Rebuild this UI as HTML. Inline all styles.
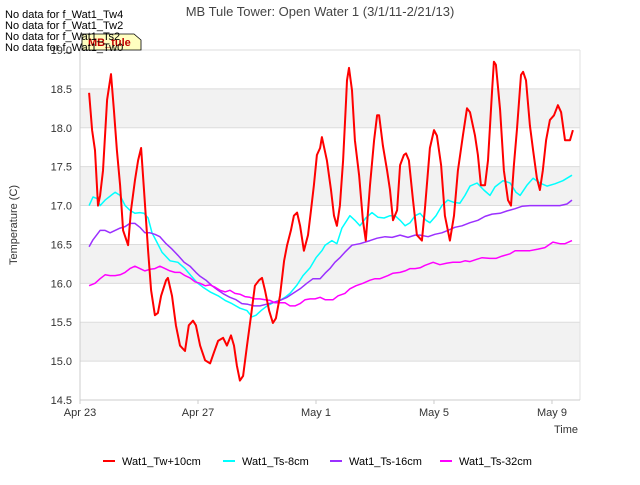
<!DOCTYPE html>
<html><head><meta charset="utf-8"><style>
body{margin:0;background:#fff;font-family:"Liberation Sans",sans-serif}
svg text{font-family:"Liberation Sans",sans-serif}
</style></head><body>
<svg id="c" width="640" height="480" xmlns="http://www.w3.org/2000/svg">
<text x="320" y="16" text-anchor="middle" font-size="13" fill="#444">MB Tule Tower: Open Water 1 (3/1/11-2/21/13)</text>
<g id="plot"></g>
<g><path d="M82,34 L134,34 L141,40 L141,50 L82,50 Z" fill="#ffffc0" stroke="#000" stroke-width="0.8"/>
<text x="88" y="46" font-size="11" fill="#c00000" font-weight="bold">MB_tule</text></g>
<g font-size="11" fill="#000">
<text x="5" y="18">No data for f_Wat1_Tw4</text>
<text x="5" y="29">No data for f_Wat1_Tw2</text>
<text x="5" y="40">No data for f_Wat1_Ts2</text>
<text x="5" y="51">No data for f_Wat1_Tw0</text>
</g>
<text transform="translate(17,225) rotate(-90)" text-anchor="middle" font-size="11" fill="#333">Temperature (C)</text>
<text x="578" y="433" text-anchor="end" font-size="11" fill="#333">Time</text>
<g id="legend" font-size="11" fill="#000"></g>
</svg>
<script>
const yTicks=[14.5,15.0,15.5,16.0,16.5,17.0,17.5,18.0,18.5,19.0];
const xTickDays=[0,4,8,12,16];
const xTickLabels=["Apr 23","Apr 27","May 1","May 5","May 9"];
const seriesNames=["Wat1_Tw+10cm","Wat1_Ts-8cm","Wat1_Ts-16cm","Wat1_Ts-32cm"];
const seriesColors=["#ff0000","#00ffff","#9b30ff","#ff00ff"];
const redT=[0.31,0.41,0.51,0.61,0.68,0.78,0.92,1.05,1.15,1.25,1.36,1.46,1.63,1.73,1.86,1.97,2.07,2.17,2.31,2.41,2.54,2.64,2.75,2.92,2.98,3.12,3.25,3.39,3.56,3.69,3.83,3.93,4.07,4.24,4.41,4.54,4.68,4.85,4.98,5.12,5.22,5.32,5.42,5.53,5.66,5.80,5.93,6.07,6.17,6.27,6.41,6.54,6.64,6.78,6.92,7.02,7.15,7.25,7.36,7.46,7.59,7.73,7.83,7.93,8.03,8.14,8.20,8.37,8.51,8.61,8.71,8.81,8.92,9.02,9.05,9.12,9.22,9.32,9.46,9.59,9.69,9.83,9.97,10.07,10.14,10.27,10.41,10.51,10.61,10.75,10.85,10.98,11.05,11.15,11.29,11.42,11.59,11.69,11.86,12.00,12.10,12.24,12.37,12.54,12.68,12.81,12.98,13.12,13.22,13.39,13.49,13.59,13.73,13.83,13.97,14.03,14.10,14.24,14.37,14.51,14.61,14.71,14.81,14.95,15.02,15.12,15.25,15.36,15.49,15.59,15.69,15.80,15.93,16.07,16.20,16.31,16.44,16.61,16.71];
const redV=[18.45,17.97,17.71,17.00,17.13,17.45,18.36,18.69,18.23,17.71,17.26,16.68,16.49,16.94,17.32,17.58,17.74,17.20,16.42,15.91,15.59,15.62,15.84,16.04,16.07,15.84,15.46,15.20,15.13,15.46,15.52,15.46,15.20,15.01,14.97,15.11,15.26,15.30,15.20,15.33,15.20,14.94,14.75,14.81,15.20,15.59,15.97,16.04,16.07,15.91,15.65,15.49,15.55,15.84,16.29,16.49,16.68,16.87,16.91,16.74,16.42,16.62,16.94,17.26,17.65,17.74,17.88,17.58,17.20,16.87,16.74,17.00,17.58,18.36,18.61,18.77,18.48,17.84,17.39,16.81,16.55,17.26,17.84,18.16,18.16,17.77,17.45,17.20,16.81,16.94,17.52,17.65,17.67,17.58,17.07,16.62,16.55,16.94,17.74,17.97,17.90,17.52,16.87,16.55,16.87,17.45,17.90,18.25,18.20,17.90,17.65,17.26,17.26,17.58,18.48,18.85,18.81,18.23,17.45,17.07,17.00,17.52,17.97,18.68,18.72,18.61,18.03,17.71,17.35,17.20,17.45,17.84,18.10,18.16,18.29,18.20,17.84,17.84,17.97];
const cyanT=[0.31,0.44,0.58,0.68,0.85,1.05,1.19,1.36,1.53,1.69,1.86,2.03,2.17,2.31,2.44,2.58,2.78,3.05,3.32,3.56,3.76,3.97,4.17,4.41,4.68,4.92,5.15,5.42,5.66,5.83,5.97,6.14,6.34,6.54,6.78,6.95,7.12,7.36,7.56,7.80,8.00,8.20,8.31,8.54,8.71,8.88,9.15,9.32,9.49,9.69,9.90,10.10,10.31,10.51,10.68,10.85,11.02,11.19,11.36,11.53,11.73,11.86,12.07,12.27,12.47,12.68,12.88,13.05,13.22,13.46,13.69,13.90,14.07,14.34,14.58,14.78,14.92,15.15,15.36,15.59,15.83,16.10,16.37,16.68];
const cyanV=[17.00,17.11,17.09,17.00,17.07,17.13,17.17,17.13,17.00,16.94,16.90,16.91,16.90,16.84,16.65,16.55,16.40,16.29,16.27,16.19,16.10,16.01,15.95,15.89,15.84,15.78,15.74,15.68,15.65,15.57,15.59,15.65,15.71,15.75,15.78,15.82,15.87,15.98,16.10,16.20,16.33,16.42,16.49,16.55,16.51,16.71,16.87,16.81,16.74,16.84,16.91,16.85,16.84,16.87,16.87,16.81,16.74,16.78,16.87,16.90,16.81,16.78,16.87,17.00,17.07,17.04,17.03,17.13,17.25,17.29,17.20,17.13,17.24,17.32,17.29,17.17,17.13,17.26,17.35,17.29,17.25,17.28,17.32,17.39];
const purpleT=[0.31,0.44,0.68,0.85,1.02,1.19,1.36,1.53,1.69,1.86,2.03,2.20,2.37,2.54,2.71,2.92,3.12,3.32,3.53,3.73,3.93,4.07,4.27,4.47,4.68,4.88,5.08,5.29,5.49,5.69,5.90,6.10,6.31,6.51,6.78,7.02,7.22,7.46,7.69,7.90,8.14,8.31,8.47,8.64,8.81,8.98,9.22,9.49,9.83,10.07,10.34,10.58,10.85,11.12,11.36,11.53,11.80,12.03,12.27,12.47,12.71,12.95,13.22,13.49,13.73,13.97,14.24,14.47,14.75,14.98,15.25,15.59,15.93,16.27,16.51,16.68];
const purpleV=[16.47,16.56,16.68,16.68,16.65,16.68,16.71,16.73,16.77,16.77,16.72,16.65,16.65,16.63,16.60,16.51,16.44,16.36,16.27,16.22,16.14,16.09,16.04,15.97,15.91,15.86,15.82,15.79,15.74,15.73,15.71,15.71,15.73,15.75,15.78,15.82,15.87,15.93,16.00,16.06,16.06,16.13,16.19,16.27,16.33,16.40,16.49,16.51,16.55,16.58,16.60,16.59,16.62,16.59,16.62,16.62,16.60,16.63,16.65,16.68,16.72,16.74,16.78,16.81,16.86,16.89,16.90,16.93,16.96,16.99,17.00,17.00,17.00,17.00,17.02,17.07];
const magT=[0.31,0.51,0.68,0.85,1.02,1.19,1.36,1.53,1.69,1.86,2.03,2.20,2.37,2.54,2.71,2.88,3.05,3.22,3.39,3.56,3.73,3.90,4.07,4.24,4.41,4.58,4.75,4.92,5.08,5.25,5.42,5.59,5.76,5.93,6.10,6.27,6.44,6.61,6.95,7.12,7.29,7.46,7.63,7.80,7.97,8.14,8.31,8.58,8.75,8.98,9.15,9.36,9.59,9.83,10.00,10.17,10.44,10.61,10.85,11.02,11.19,11.36,11.53,11.69,11.97,12.20,12.44,12.64,12.88,13.05,13.22,13.46,13.63,13.90,14.10,14.31,14.58,14.75,14.98,15.25,15.53,15.76,16.03,16.27,16.44,16.68];
const magV=[15.97,16.00,16.06,16.11,16.10,16.10,16.11,16.14,16.19,16.22,16.19,16.16,16.18,16.19,16.22,16.19,16.16,16.14,16.14,16.10,16.07,16.02,16.00,15.97,15.98,15.95,15.91,15.89,15.91,15.87,15.86,15.83,15.82,15.80,15.80,15.79,15.78,15.75,15.75,15.71,15.71,15.74,15.79,15.80,15.80,15.82,15.79,15.79,15.84,15.87,15.93,15.97,16.00,16.04,16.06,16.06,16.10,16.13,16.14,16.16,16.19,16.19,16.20,16.23,16.27,16.24,16.26,16.27,16.27,16.29,16.28,16.31,16.33,16.32,16.32,16.35,16.38,16.42,16.42,16.42,16.44,16.46,16.53,16.51,16.51,16.55];

const NS="http://www.w3.org/2000/svg";
const L=80,R=580,T=50,B=400,D0=0,D1=16.95,V0=14.5,V1=19.0;
const xs=d=>L+(d-D0)/(D1-D0)*(R-L);
const ys=v=>B-(v-V0)/(V1-V0)*(B-T);
const plot=document.getElementById('plot');
function mk(tag,attrs,parent){const e=document.createElementNS(NS,tag);for(const k in attrs)e.setAttribute(k,attrs[k]);(parent||plot).appendChild(e);return e;}
mk('rect',{x:L,y:T,width:R-L,height:B-T,fill:'#fff'});
for(let i=0;i<yTicks.length-1;i++){
  if(i%2===1){const b=mk('rect',{x:L,y:ys(yTicks[i+1]),width:R-L,height:ys(yTicks[i])-ys(yTicks[i+1]),fill:'#f2f2f2'});
  
  }
}
yTicks.forEach(v=>{
  const g=mk('line',{x1:L,x2:R,y1:ys(v),y2:ys(v),stroke:'#dcdcdc','stroke-width':1});
  
  
  const t=mk('text',{x:L-8,y:ys(v)+4,'text-anchor':'end','font-size':11,fill:'#333'});
  t.textContent=v.toFixed(1);
  
  
});
mk('line',{x1:L,x2:L,y1:T,y2:B,stroke:'#ccc'});
mk('line',{x1:R,x2:R,y1:T,y2:B,stroke:'#e0e0e0'});
mk('line',{x1:L,x2:R,y1:B,y2:B,stroke:'#ccc'});
xTickDays.forEach((d,i)=>{
  mk('line',{x1:xs(d),x2:xs(d),y1:B,y2:B+4,stroke:'#ccc'});
  const t=mk('text',{x:xs(d),y:B+16,'text-anchor':'middle','font-size':11,fill:'#333'});
  t.textContent=xTickLabels[i];
  
  
});
const allT=[redT,cyanT,purpleT,magT],allV=[redV,cyanV,purpleV,magV];
const order=[1,2,3,0];
order.forEach(s=>{
  const d=allT[s].map((t,i)=>(i?'L':'M')+xs(t).toFixed(1)+','+ys(allV[s][i]).toFixed(1)).join(' ');
  const p=mk('path',{d:d,fill:'none',stroke:seriesColors[s],'stroke-width':s===0?2:1.5,'stroke-linejoin':'round'});
  
  
});
const leg=document.getElementById('legend');
const lx=[103,223,330,440];
seriesNames.forEach((n,i)=>{
  const g=mk('g',{},leg);
  
  
  mk('line',{x1:lx[i],x2:lx[i]+12,y1:461,y2:461,stroke:seriesColors[i],'stroke-width':2},g);
  const t=mk('text',{x:lx[i]+19,y:465,'font-size':11},g);
  t.textContent=n;
});
</script>
</body></html>
